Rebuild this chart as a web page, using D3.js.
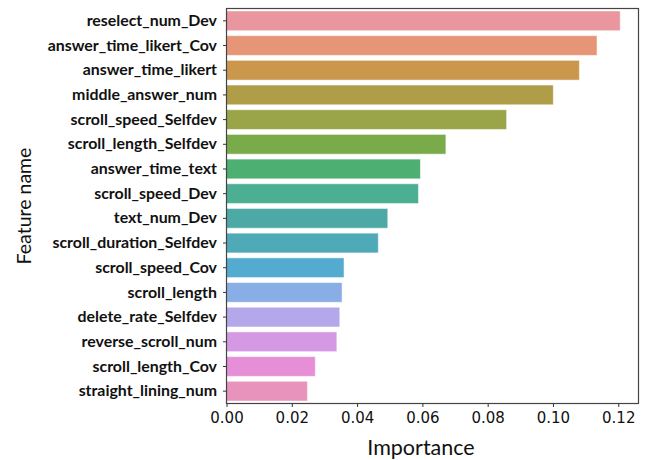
<!DOCTYPE html>
<html><head><meta charset="utf-8">
<script src="https://cdn.jsdelivr.net/npm/d3@7"></script>
<style>body{margin:0;background:#fff}</style>
</head><body>
<svg id="c" width="646" height="460"></svg>
<script>
const features = ["reselect_num_Dev","answer_time_likert_Cov","answer_time_likert","middle_answer_num","scroll_speed_Selfdev","scroll_length_Selfdev","answer_time_text","scroll_speed_Dev","text_num_Dev","scroll_duration_Selfdev","scroll_speed_Cov","scroll_length","delete_rate_Selfdev","reverse_scroll_num","scroll_length_Cov","straight_lining_num"];
const importance = [0.1206,0.1135,0.1081,0.1001,0.0858,0.0672,0.0594,0.0588,0.0494,0.0465,0.0360,0.0354,0.0347,0.0338,0.0272,0.0248];
const colors = ["#e9969f","#e69677","#cb974c","#b09d48","#9aa448","#7aab4b","#4daf72","#4cae93","#4ca9a6","#4eaab6","#53acd0","#88aee5","#b4a8ea","#d599e3","#e68ed6","#e893bb"];
const xTicks = [0,0.02,0.04,0.06,0.08,0.10,0.12];

const svg = d3.select("#c");
const L = 226.5, R = 638.5, T = 8.5, B = 403.5;
const x = d3.scaleLinear().domain([0,0.1262]).range([L,R]);
const y = d3.scaleBand().domain(features).range([T,B]).paddingInner(0.2).paddingOuter(0.1);

svg.append("g").selectAll("rect").data(features).join("rect")
  .attr("x", x(0)).attr("y", d=>y(d))
  .attr("width", (d,i)=>x(importance[i])-x(0)).attr("height", y.bandwidth())
  .attr("fill",(d,i)=>colors[i]).attr("stroke","#fff").attr("stroke-opacity",0.5).attr("stroke-width",1);

svg.append("rect").attr("x",L).attr("y",T).attr("width",R-L).attr("height",B-T)
  .attr("fill","none").attr("stroke","#444").attr("stroke-width",1.2);

const xa = svg.append("g").attr("transform",`translate(0,${B})`)
  .call(d3.axisBottom(x).tickValues(xTicks).tickFormat(d3.format(".2f")).tickSizeOuter(0).tickSize(3.5));
xa.select(".domain").remove();
xa.selectAll("text").attr("font-family","DejaVu Sans").attr("font-size",15).attr("fill","#111").attr("dy","0.85em");
xa.selectAll("line").attr("stroke","#333");

const ya = svg.append("g").attr("transform",`translate(${L},0)`)
  .call(d3.axisLeft(y).tickSizeOuter(0).tickSize(3.5).tickPadding(6));
ya.select(".domain").remove();
ya.selectAll("text").attr("font-family","Lato").attr("font-weight","bold").attr("font-size",15.9).attr("fill","#111");
ya.selectAll("line").attr("stroke","#333");

svg.append("text").attr("x",421).attr("y",455).attr("text-anchor","middle")
  .attr("font-family","Lato").attr("font-size",21.5).attr("fill","#111").text("Importance");
svg.append("text").attr("transform","translate(31,206) rotate(-90)").attr("text-anchor","middle")
  .attr("font-family","Lato").attr("font-size",19.5).attr("fill","#111").text("Feature name");
</script>
</body></html>
